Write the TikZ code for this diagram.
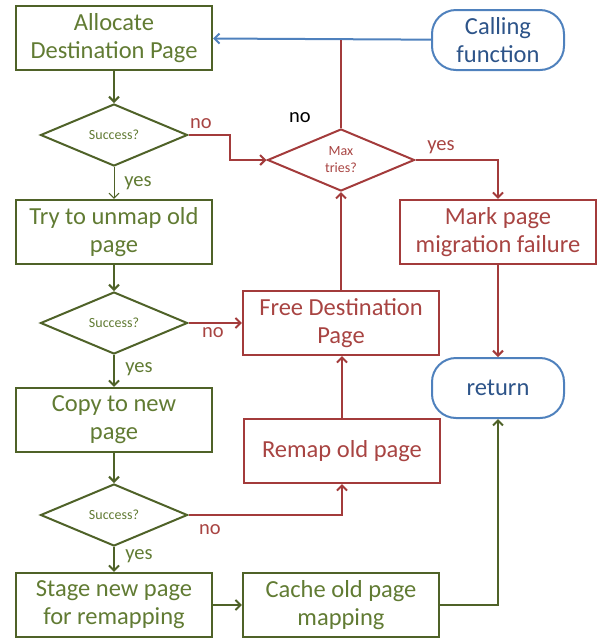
\documentclass[tikz,border=0pt]{standalone}
\usepackage{fontspec}
\setmainfont{Carlito}
\usepackage{xcolor}
\usepackage{tikz}
\usetikzlibrary{shapes,arrows.meta,positioning,calc}
\definecolor{grnline}{HTML}{4F6228}
\definecolor{grntext}{HTML}{617B33}
\definecolor{redline}{HTML}{A33B3B}
\definecolor{redtext}{HTML}{A84442}
\definecolor{bluline}{HTML}{4F81BD}
\definecolor{blutext}{HTML}{2D5489}

\begin{document}
\begin{tikzpicture}[
    x=1pt,y=-1pt,
    gbox/.style = {rectangle,draw=grnline,line width=2.2pt,text=grntext,align=center,
                   minimum width=196pt,minimum height=64pt,inner sep=1pt,
                   font=\fontsize{24.5}{28}\selectfont},
    rbox/.style = {gbox,draw=redline,text=redtext},
    gdec/.style = {diamond,draw=grnline,line width=2pt,text=grntext,align=center,
                   minimum width=147pt,minimum height=62pt,inner sep=0pt,
                   font=\fontsize{14}{17}\selectfont},
    rdec/.style = {gdec,draw=redline,text=redtext},
    term/.style = {rectangle,rounded corners=24pt,draw=bluline,line width=2pt,
                   text=blutext,align=center,minimum width=132pt,minimum height=60pt,
                   inner sep=1pt,font=\fontsize{24.5}{28}\selectfont},
    garr/.style = {-{Straight Barb[length=5pt,width=10pt]},grnline,line width=2pt},
    rarr/.style = {-{Straight Barb[length=5pt,width=10pt]},redline,line width=2pt},
    barr/.style = {-{Straight Barb[length=5pt,width=10pt]},bluline,line width=2pt},
    lbl/.style  = {font=\fontsize{20.5}{24}\selectfont},
  ]
  \useasboundingbox (0,0) rectangle (602,641);

  % Main column
  \node[gbox] (alloc) at (114,38)  {Allocate\\Destination Page};
  \node[gdec] (dec1)  at (114,135) {Success?};
  \node[gbox] (unmap) at (114,232) {Try to unmap old\\page};
  \node[gdec] (dec2)  at (114,323) {Success?};
  \node[gbox] (copy)  at (114,420) {Copy to new\\page};
  \node[gdec] (dec3)  at (114,515) {Success?};
  \node[gbox] (stage) at (114,605) {Stage new page\\for remapping};
  \node[gbox] (cache) at (341,605) {Cache old page\\mapping};

  % Recovery path
  \node[rdec] (maxtry) at (341,160) {Max\\tries?};
  \node[rbox] (free)   at (341,323) {Free Destination\\Page};
  \node[rbox] (remap)  at (342,451) {Remap old page};
  \node[rbox] (mark)   at (498,232) {Mark page\\migration failure};

  % Terminals
  \node[term] (call) at (498,40)  {Calling\\function};
  \node[term] (ret)  at (498,388) {return};
  \coordinate (meet) at (maxtry.north |- call.west);

  % Connectors
  \draw[barr] (call) -- (alloc);
  \draw[redline,line width=2pt] (maxtry.north) -- (meet);
  \draw[garr] (alloc) -- (dec1);
  \draw[garr,line width=1pt] (dec1) -- (unmap);
  \draw[garr] (unmap) -- (dec2);
  \draw[garr] (dec2) -- (copy);
  \draw[garr] (copy) -- (dec3);
  \draw[garr] (dec3) -- (stage);
  \draw[garr] (stage) -- (cache);
  \draw[garr] (cache.east) -| (ret.south);
  \draw[rarr] (dec1.east) -- ++(41,0) |- (maxtry.west);
  \draw[rarr] (maxtry.east) -| (mark.north);
  \draw[rarr] (mark) -- (ret);
  \draw[rarr] (dec2.east) -- (free.west);
  \draw[rarr] (free.north) -- (maxtry.south);
  \draw[rarr] (remap.north) -- (free.south -| remap.north);
  \draw[rarr] (dec3.east) -| (remap.south);

  % Labels
  \node[lbl,text=redtext] at (201,124) {no};
  \node[lbl,text=grntext] at (138,183) {yes};
  \node[lbl] at (300,118) {no};
  \node[lbl,text=redtext] at (441,147) {yes};
  \node[lbl,text=redtext] at (213,333) {no};
  \node[lbl,text=grntext] at (139,369) {yes};
  \node[lbl,text=redtext] at (210,530) {no};
  \node[lbl,text=grntext] at (139,556) {yes};
\end{tikzpicture}
\end{document}
